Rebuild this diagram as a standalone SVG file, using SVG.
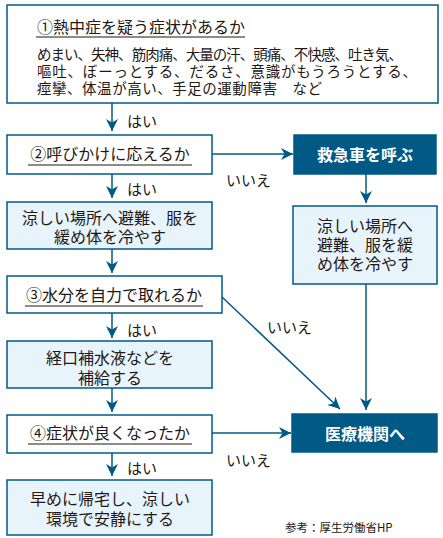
<svg xmlns="http://www.w3.org/2000/svg" width="443" height="538" viewBox="0 0 443 538">
<defs>
<style>
text{font-family:"Noto Sans CJK JP","Noto Sans",sans-serif;fill:#231815;dominant-baseline:central}
.box{fill:#fff;stroke:#005a85;stroke-width:1.5}
.lt{fill:#e8f4fc;stroke:#005a85;stroke-width:1.5}
.dk{fill:#005a85;stroke:#005a85;stroke-width:1.5}
.t16{font-size:16px}
.t14{font-size:14.5px}
.lbl{font-size:15px}
.wt{font-size:16px;font-weight:bold;fill:#fff}
.ul{stroke:#231815;stroke-width:1.2}
.c{stroke:#005a85;stroke-width:1.5;fill:none;marker-end:url(#ah)}
.mid{text-anchor:middle}
</style>
<marker id="ah" markerUnits="userSpaceOnUse" markerWidth="13" markerHeight="12" refX="12" refY="6" orient="auto">
<path d="M0,0 L12,6 L0,12 L3.5,6 z" fill="#005a85"/>
</marker>
</defs>
<g id="connectors">
<line class="c" x1="112" y1="103" x2="112" y2="131"/>
<line class="c" x1="212" y1="154" x2="293" y2="154"/>
<line class="c" x1="366" y1="174" x2="366" y2="203"/>
<line class="c" x1="112" y1="174" x2="112" y2="198"/>
<line class="c" x1="112" y1="249" x2="112" y2="273"/>
<line class="c" x1="222" y1="297" x2="340" y2="409"/>
<line class="c" x1="366" y1="284" x2="366" y2="410"/>
<line class="c" x1="112" y1="313" x2="112" y2="338"/>
<line class="c" x1="112" y1="388" x2="112" y2="412"/>
<line class="c" x1="212" y1="433" x2="291" y2="433"/>
<line class="c" x1="112" y1="453" x2="112" y2="476"/>
<text class="lbl" x="127" y="120">はい</text>
<text class="lbl" x="127" y="188">はい</text>
<text class="lbl" x="127" y="329">はい</text>
<text class="lbl" x="127" y="467">はい</text>
<text class="lbl" x="226" y="179">いいえ</text>
<text class="lbl" x="267" y="326">いいえ</text>
<text class="lbl" x="226" y="459">いいえ</text>
</g>
<g id="n1">
<rect class="box" x="7" y="5" width="431" height="98"/>
<text class="t16" x="37" y="26">①熱中症を疑う症状があるか</text>
<line class="ul" x1="36" y1="37" x2="245" y2="37"/>
<text class="t14" x="37" y="53" textLength="366" lengthAdjust="spacing">めまい、失神、筋肉痛、大量の汗、頭痛、不快感、吐き気、</text>
<text class="t14" x="37" y="70.5" textLength="380" lengthAdjust="spacing">嘔吐、ぼーっとする、だるさ、意識がもうろうとする、</text>
<text class="t14" x="37" y="87.5" textLength="285" lengthAdjust="spacing">痙攣、体温が高い、手足の運動障害　など</text>
</g>
<g id="n2">
<rect class="box" x="7" y="135" width="205" height="39"/>
<text class="t16 mid" x="110" y="153">②呼びかけに応えるか</text>
<line class="ul" x1="28" y1="165" x2="192" y2="165"/>
</g>
<g id="n_kyukyu">
<rect class="dk" x="294" y="135" width="142" height="39"/>
<text class="wt mid" x="365" y="154">救急車を呼ぶ</text>
</g>
<g id="n_right_cool">
<rect class="lt" x="293" y="206" width="144" height="78"/>
<text class="t16 mid" x="365" y="225">涼しい場所へ</text>
<text class="t16 mid" x="365" y="244">避難、服を緩</text>
<text class="t16 mid" x="365" y="263">め体を冷やす</text>
</g>
<g id="n_left_cool">
<rect class="lt" x="7" y="202" width="205" height="47"/>
<text class="t16 mid" x="110" y="217">涼しい場所へ避難、服を</text>
<text class="t16 mid" x="110" y="236">緩め体を冷やす</text>
</g>
<g id="n3">
<rect class="box" x="7" y="276" width="215" height="37"/>
<text class="t16 mid" x="114" y="294">③水分を自力で取れるか</text>
<line class="ul" x1="25" y1="306" x2="203" y2="306"/>
</g>
<g id="n_water">
<rect class="lt" x="7" y="341" width="205" height="47"/>
<text class="t16 mid" x="110" y="357">経口補水液などを</text>
<text class="t16 mid" x="110" y="377">補給する</text>
</g>
<g id="n4">
<rect class="box" x="7" y="415" width="205" height="38"/>
<text class="t16 mid" x="110" y="432">④症状が良くなったか</text>
<line class="ul" x1="28" y1="444" x2="192" y2="444"/>
</g>
<g id="n_iryo">
<rect class="dk" x="292" y="414" width="145" height="38"/>
<text class="wt mid" x="365" y="433">医療機関へ</text>
</g>
<g id="n_home">
<rect class="lt" x="7" y="480" width="205" height="55"/>
<text class="t16 mid" x="110" y="498">早めに帰宅し、涼しい</text>
<text class="t16 mid" x="110" y="518">環境で安静にする</text>
</g>
<text x="285" y="527" style="font-size:11.5px">参考：厚生労働省HP</text>
</svg>
